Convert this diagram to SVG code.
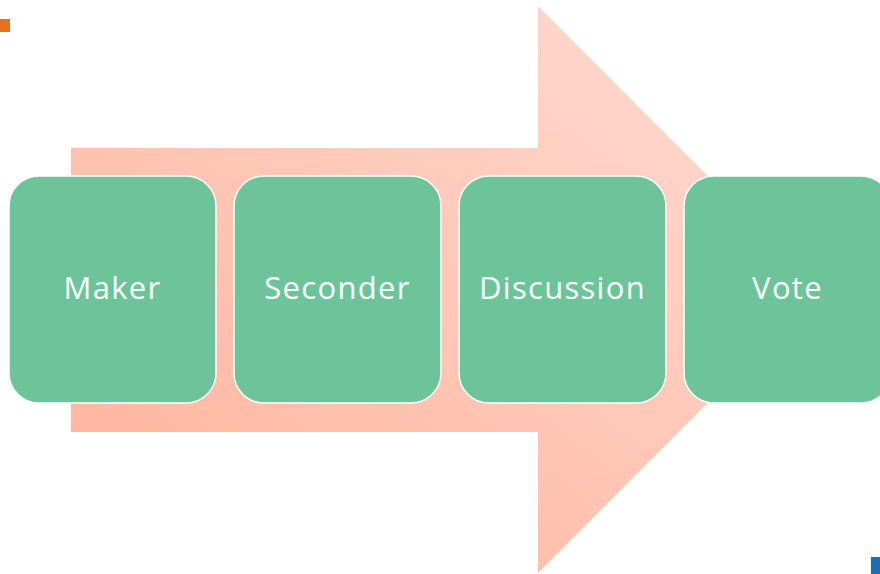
<svg xmlns="http://www.w3.org/2000/svg" width="880" height="574" viewBox="0 0 880 574">
  <style>
    .box { fill: #6DC49A; stroke: #FFFFFF; stroke-width: 1.5; }
    .lbl { fill: #FFFFFF; font-family: "Open Sans", "Liberation Sans", sans-serif; font-size: 31px; font-weight: 400; letter-spacing: 1.3px; text-anchor: middle; dominant-baseline: central; }
  </style>
  <defs>
    <linearGradient id="arrowGrad" x1="0" y1="1" x2="1" y2="0">
      <stop offset="0" stop-color="#FFB29A"/>
      <stop offset="1" stop-color="#FFDDD4"/>
    </linearGradient>
  </defs>
  <rect width="880" height="574" fill="#FFFFFF"/>
  <rect x="0" y="19" width="10" height="13" fill="#E8701C"/>
  <rect x="871" y="557" width="9" height="17" fill="#1B6DB6"/>
  <g id="arrow">
    <polygon points="71,148 538,148 538,6 821,289.5 538,573 538,432 71,432" fill="url(#arrowGrad)"/>
  </g>
  <g id="connectors"></g>
  <g id="maker">
    <rect class="box" x="9" y="176" width="207" height="227" rx="30"/>
    <text class="lbl" x="112.5" y="287">Maker</text>
  </g>
  <g id="seconder">
    <rect class="box" x="234" y="176" width="207" height="227" rx="30"/>
    <text class="lbl" x="337.5" y="287">Seconder</text>
  </g>
  <g id="discussion">
    <rect class="box" x="459" y="176" width="207" height="227" rx="30"/>
    <text class="lbl" x="562.5" y="287">Discussion</text>
  </g>
  <g id="vote">
    <rect class="box" x="684" y="176" width="207" height="227" rx="30"/>
    <text class="lbl" x="787.5" y="287">Vote</text>
  </g>
</svg>
